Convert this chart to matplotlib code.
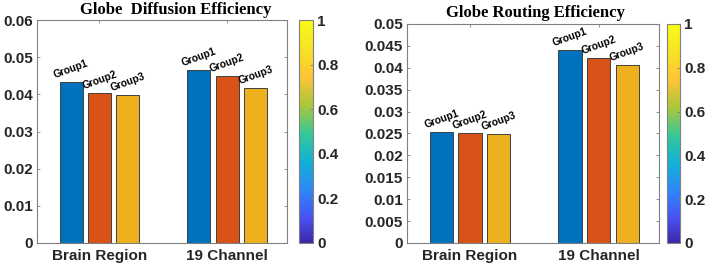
import numpy as np
import matplotlib
matplotlib.use("Agg")
import matplotlib.pyplot as plt
from matplotlib.colors import LinearSegmentedColormap, Normalize
from matplotlib.cm import ScalarMappable

categories = ["Brain Region", "19 Channel"]
groups = ["Group1", "Group2", "Group3"]
diffusion = {"Group1": [0.0433, 0.0466], "Group2": [0.0404, 0.0448], "Group3": [0.0397, 0.0416]}
routing = {"Group1": [0.0254, 0.0441], "Group2": [0.0251, 0.0422], "Group3": [0.0249, 0.0406]}
diff_ticks = [0, 0.01, 0.02, 0.03, 0.04, 0.05, 0.06]
rout_ticks = [0, 0.005, 0.01, 0.015, 0.02, 0.025, 0.03, 0.035, 0.04, 0.045, 0.05]
cb_ticks = [0, 0.2, 0.4, 0.6, 0.8, 1]

colors = [(0, 0.447, 0.741), (0.85, 0.325, 0.098), (0.929, 0.694, 0.125)]

parula_pts = [
    (0.0, (0.2422, 0.1504, 0.6603)),
    (7/63, (0.2810, 0.3228, 0.9579)),
    (15/63, (0.1786, 0.5289, 0.9682)),
    (23/63, (0.0689, 0.6948, 0.8394)),
    (31/63, (0.2161, 0.7843, 0.5923)),
    (39/63, (0.6720, 0.7793, 0.2227)),
    (47/63, (0.9970, 0.7659, 0.2199)),
    (55/63, (0.9600, 0.8900, 0.1500)),
    (1.0, (0.9769, 0.9839, 0.0805)),
]
parula = LinearSegmentedColormap.from_list("parula", parula_pts)

W, H = 708, 271
fig = plt.figure(figsize=(W/100, H/100), dpi=100)

tick_col = (0.15, 0.15, 0.15)
ax_col = (0.5, 0.5, 0.5)

def px(x0, y0, x1, y1):
    return [x0/W, 1 - y1/H, (x1-x0)/W, (y1-y0)/H]

def panel(axrect, cbrect, data, yticks, ymax, title, title_xy):
    ax = fig.add_axes(px(*axrect))
    x = np.arange(1, len(categories)+1)
    width = 0.18
    step = 0.222
    for i, g in enumerate(groups):
        xs = x + (i-1)*step
        ax.bar(xs, data[g], width=width, color=colors[i],
               edgecolor=(0.25, 0.25, 0.25), linewidth=0.7, zorder=2)
        for xi, v in zip(xs, data[g]):
            ax.annotate(g, (xi, v), xytext=(0, 1.5), textcoords="offset points",
                        ha="center", va="bottom", rotation=20,
                        fontsize=7.3, fontweight="bold", family="Liberation Sans",
                        color="black")
    ax.set_xlim(0.51, 2.47)
    ax.set_ylim(0, ymax)
    ax.set_yticks(yticks)
    ax.set_yticklabels([f"{t:g}" for t in yticks], fontsize=11, fontweight="bold",
                       family="Liberation Sans", color=tick_col)
    ax.set_xticks(x)
    ax.set_xticklabels(categories, fontsize=11, fontweight="bold",
                       family="Liberation Sans", color=tick_col)
    ax.tick_params(direction="in", length=2.5, width=0.6, color=ax_col,
                   right=True, top=True, pad=3)
    ax.tick_params(axis="x", pad=4)
    for s in ax.spines.values():
        s.set_color(ax_col)
        s.set_linewidth(0.8)
    cax = fig.add_axes(px(*cbrect))
    sm = ScalarMappable(norm=Normalize(0, 1), cmap=parula)
    cb = fig.colorbar(sm, cax=cax, ticks=cb_ticks)
    cb.ax.set_yticklabels([f"{t:g}" for t in cb_ticks], fontsize=11, fontweight="bold",
                          family="Liberation Sans", color=tick_col)
    cb.ax.tick_params(direction="in", length=2, width=0.6, color=ax_col, pad=3)
    cb.outline.set_edgecolor(ax_col)
    cb.outline.set_linewidth(0.8)
    fig.text(title_xy[0]/W, 1 - title_xy[1]/H, title, ha="center", va="center",
             fontsize=12, fontweight="bold", family="Liberation Serif", color="black")

panel((37, 20, 287, 243), (299, 20, 313, 243), diffusion, diff_ticks, 0.06,
      "Globe  Diffusion Efficiency", (176, 10))
panel((407, 24, 659, 243), (667, 24, 680, 243), routing, rout_ticks, 0.05,
      "Globe Routing Efficiency", (536, 13))

fig.savefig("out.png", dpi=100)
